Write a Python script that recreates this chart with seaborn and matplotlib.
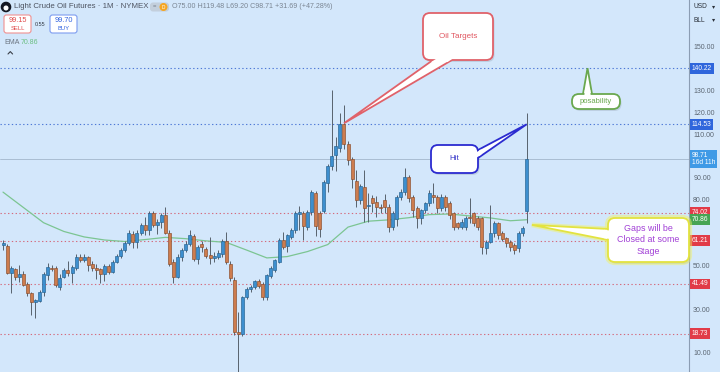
import numpy as np
import pandas as pd
import matplotlib
matplotlib.use("Agg")
import matplotlib.pyplot as plt
import seaborn as sns
from matplotlib.patches import FancyBboxPatch, Polygon, Circle

# ---------------- data ----------------
opens = [59.5, 59.0, 46.7, 48.2, 44.8, 46.0, 41.4, 37.3, 33.3, 33.5,
         37.9, 45.8, 48.8, 48.6, 40.3, 44.5, 47.8, 46.3, 48.6, 54.0,
         52.3, 53.7, 50.5, 49.0, 48.4, 46.0, 49.8, 46.8, 51.7, 54.2,
         57.0, 60.3, 64.5, 60.8, 65.0, 68.4, 66.2, 74.0, 68.4, 70.0,
         73.0, 64.7, 51.5, 44.8, 54.0, 57.0, 59.8, 63.4, 53.0, 59.6,
         57.5, 54.7, 53.5, 54.0, 55.2, 61.2, 50.6, 43.3, 19.6, 18.8,
         35.3, 39.0, 40.2, 42.8, 41.5, 35.3, 45.0, 47.8, 51.7, 61.6,
         58.8, 63.1, 66.1, 73.6, 74.0, 67.7, 74.5, 83.2, 74.0, 75.0,
         87.6, 95.4, 100.5, 103.5, 114.8, 105.5, 98.5, 88.7, 80.0, 86.0,
         77.0, 80.6, 78.9, 76.8, 80.0, 76.8, 67.7, 71.0, 81.4, 83.7,
         90.5, 81.4, 76.1, 71.5, 75.3, 78.4, 82.2, 81.4, 76.1, 81.1,
         78.4, 73.8, 69.2, 67.7, 67.7, 72.2, 73.8, 71.5, 71.5, 57.8,
         60.8, 64.9, 69.2, 64.6, 62.3, 60.8, 59.3, 57.8, 64.6, 75.0]
highs = [61.8, 59.6, 49.5, 49.0, 50.0, 47.5, 42.3, 38.0, 34.8, 38.5,
         46.8, 51.0, 50.0, 49.5, 46.0, 49.0, 52.0, 50.0, 55.0, 55.0,
         55.2, 54.5, 52.0, 50.5, 49.0, 50.5, 50.5, 52.3, 55.0, 57.8,
         61.0, 66.0, 65.5, 66.0, 69.5, 72.0, 75.0, 75.0, 71.0, 74.0,
         76.8, 66.0, 53.0, 55.0, 58.0, 61.0, 66.0, 64.5, 59.5, 61.0,
         58.5, 63.0, 56.0, 57.0, 62.0, 65.3, 52.0, 44.5, 28.8, 36.0,
         40.0, 41.0, 43.5, 43.8, 42.5, 46.0, 49.5, 53.0, 62.5, 65.4,
         64.5, 67.0, 75.0, 77.0, 75.0, 75.5, 84.5, 84.0, 75.0, 89.0,
         96.5, 130.2, 108.8, 119.5, 123.3, 107.0, 99.5, 93.6, 87.0, 93.6,
         83.0, 82.0, 81.5, 78.0, 82.5, 78.0, 75.0, 82.0, 85.0, 94.4,
         91.5, 82.0, 77.0, 76.0, 79.0, 84.5, 87.5, 82.0, 82.5, 82.0,
         79.5, 74.5, 70.0, 71.0, 72.5, 80.6, 74.5, 72.5, 72.0, 61.5,
         77.6, 70.5, 70.0, 65.5, 63.0, 61.5, 60.0, 65.5, 68.0, 119.48]
lows = [57.0, 46.0, 37.5, 43.3, 42.5, 40.5, 36.0, 27.5, 26.0, 33.0,
        36.0, 43.5, 47.5, 40.0, 38.8, 44.0, 45.0, 42.0, 48.0, 51.5,
        51.5, 47.5, 47.3, 43.8, 41.8, 43.0, 46.0, 46.5, 51.0, 53.5,
        56.0, 59.5, 58.0, 58.0, 64.0, 64.0, 64.0, 67.5, 64.5, 67.0,
        64.5, 49.5, 42.0, 44.0, 52.0, 56.0, 59.0, 52.0, 50.6, 56.0,
        53.5, 50.5, 51.3, 53.0, 54.0, 50.5, 43.0, 18.0, -37.6, 17.5,
        34.5, 38.0, 39.0, 39.5, 34.0, 34.0, 44.0, 47.0, 51.0, 57.5,
        56.0, 62.0, 65.0, 66.0, 61.6, 66.0, 73.0, 63.5, 63.0, 74.0,
        83.5, 93.6, 93.3, 102.0, 103.0, 96.0, 85.4, 76.8, 78.0, 70.0,
        70.0, 74.5, 72.0, 74.0, 74.0, 65.4, 66.0, 68.0, 80.0, 82.0,
        79.0, 72.0, 67.0, 69.0, 74.0, 77.0, 78.4, 74.0, 75.0, 75.0,
        71.0, 66.0, 66.5, 66.5, 66.0, 69.2, 68.0, 66.0, 55.0, 55.0,
        60.0, 63.0, 62.0, 61.0, 58.5, 56.5, 55.2, 56.0, 63.5, 69.2]
closes = [60.4, 46.7, 48.9, 44.8, 46.0, 41.0, 37.2, 33.3, 34.1, 37.9,
          45.9, 49.1, 48.5, 41.2, 44.4, 47.8, 46.3, 49.4, 53.7, 52.3,
          54.0, 50.2, 48.7, 47.9, 46.0, 49.8, 46.8, 51.7, 54.2, 57.0,
          60.3, 64.6, 60.8, 65.0, 68.4, 66.2, 74.1, 68.4, 70.0, 73.0,
          65.0, 50.5, 44.8, 54.0, 57.0, 59.8, 63.9, 53.0, 58.5, 58.4,
          54.3, 53.3, 54.2, 55.5, 61.2, 51.3, 44.2, 19.6, 18.8, 35.3,
          39.0, 40.2, 42.8, 40.5, 35.5, 45.6, 48.6, 52.4, 61.6, 58.5,
          63.9, 66.1, 73.8, 74.4, 68.0, 74.5, 83.7, 68.0, 66.5, 88.3,
          95.4, 100.0, 104.6, 114.5, 105.5, 98.3, 89.3, 80.0, 86.3, 76.2,
          77.6, 78.6, 76.8, 76.1, 76.8, 67.7, 74.0, 81.4, 83.7, 90.5,
          80.6, 75.3, 71.5, 75.3, 78.4, 83.0, 81.1, 76.1, 81.4, 76.8,
          73.0, 67.7, 67.7, 70.0, 71.5, 71.5, 69.2, 67.7, 58.5, 60.8,
          64.6, 69.2, 63.9, 61.9, 60.3, 58.5, 57.0, 64.6, 66.9, 98.71]

ema_idx = [0, 5, 10, 15, 20, 25, 30, 35, 40, 45, 50, 55, 60, 65, 70,
           75, 80, 85, 90, 95, 100, 105, 110, 115, 120, 125, 129]
ema_val = [83.5, 76.5, 69.5, 65.5, 63.0, 61.6, 60.9, 61.8, 62.8, 62.2,
           61.2, 60.5, 57.0, 53.4, 54.0, 56.3, 59.5, 67.5, 70.2, 70.8,
           71.8, 73.2, 73.5, 72.6, 71.7, 70.4, 70.86]

tick_vals = [10, 20, 30, 40, 50, 60, 70, 80, 90, 100, 110, 120, 130, 140, 150]
blue_levels = [140.22, 114.53]
red_levels = [74.02, 61.21, 41.49, 18.73]
last_price = 98.71
ema_last = 70.86
countdown = "16d 11h"
sell_price, buy_price, spread = 99.15, 99.70, 0.55
title = "Light Crude Oil Futures \u00b7 1M \u00b7 NYMEX"
ohlc_text = "O75.00 H119.48 L69.20 C98.71 +31.69 (+47.28%)"

# ---------------- style ----------------
sns.set_style("white")
plt.rcParams['font.family'] = ['Liberation Sans', 'DejaVu Sans']
BG = '#d3e7fb'
UP, UP_E = '#3d8fcf', '#24618f'
DN, DN_E = '#cd7c4e', '#8a4b2a'
WICK = '#58626d'
W, H = 720, 372

fig = plt.figure(figsize=(7.2, 3.72), dpi=100, facecolor=BG)
ax = fig.add_axes([0, 0, 689 / W, 1])
ax.set_facecolor(BG)

df = pd.DataFrame(dict(i=np.arange(len(closes)), o=opens, h=highs, l=lows, c=closes))
up = (df.c >= df.o).values

# EMA line
sns.lineplot(x=ema_idx, y=ema_val, ax=ax, color='#7cc592', lw=0.9, zorder=2)

# horizontal levels
for lv in blue_levels:
    ax.axhline(lv, color='#4d78d6', lw=0.8, ls=(0, (1.2, 2.2)), zorder=1)
for lv in red_levels:
    ax.axhline(lv, color='#d46a7c', lw=0.8, ls=(0, (1.2, 2.2)), zorder=1)
ax.axhline(last_price, color='#a3b6cc', lw=0.6, zorder=1)

# candles
ax.vlines(df.i, df.l, df.h, color=WICK, lw=0.7, zorder=3)
body_bottom = np.minimum(df.o, df.c)
body_h = np.maximum(np.abs(df.c - df.o), 0.4)
ax.bar(df.i, body_h, bottom=body_bottom, width=0.74,
       color=np.where(up, UP, DN), edgecolor=np.where(up, UP_E, DN_E),
       linewidth=0.45, zorder=4)

ax.set_xlim(-0.74, 169)
ax.set_ylim(1.2, 171.4)
ax.set_xticks([])
ax.yaxis.tick_right()
# tick labels hidden where a price box covers them (as on the reference)
box_vals = blue_levels + red_levels + [last_price, ema_last]
ax.set_yticks(tick_vals)
ax.set_yticklabels([f"{v:.2f}" if min(abs(v - b) for b in box_vals) > 3.2 else ""
                    for v in tick_vals])
ax.tick_params(axis='y', length=0, pad=3, labelsize=5, labelcolor='#5b6672')
for s in ['top', 'left', 'bottom']:
    ax.spines[s].set_visible(False)
ax.spines['right'].set_color('#8b9db3')
ax.spines['right'].set_linewidth(0.8)
ax.grid(False)

# price label boxes on the axis
ytr = ax.get_yaxis_transform()
def price_box(val, col, txt=None):
    ax.text(1.004, val, txt if txt else f"{val:.2f}", transform=ytr, ha='left',
            va='center', fontsize=4.8, color='white', clip_on=False, zorder=10,
            linespacing=1.0,
            bbox=dict(boxstyle='square,pad=0.28', fc=col, ec='none'))

for lv in blue_levels:
    price_box(lv, '#2f66dc')
price_box(last_price, '#3f9ae6', f"{last_price:.2f}\n{countdown}")
for lv in red_levels:
    price_box(lv, '#e13b48')
price_box(ema_last, '#46a453')

# ---------------- overlay in pixel coordinates ----------------
ov = fig.add_axes([0, 0, 1, 1])
ov.set_xlim(0, W)
ov.set_ylim(H, 0)
ov.axis('off')
ov.patch.set_alpha(0)
ov.set_zorder(5)

def to_px(x, y):
    dx, dy = ax.transData.transform((x, y))
    return np.array([dx, H - dy])

def callout(box, base, tip, ec, text, tc, fs=5.8, lw=1.3, glow=None, ls=1.25):
    x0, y0, x1, y1 = box
    b0, b1 = np.array(base[0], float), np.array(base[1], float)
    tip = np.array(tip, float)
    ov.add_patch(FancyBboxPatch((x0 + 1.5, y0 + 2), x1 - x0, y1 - y0,
                                boxstyle='round,pad=0,rounding_size=7',
                                fc='#7f8a99', ec='none', alpha=0.25, zorder=20))
    if glow:
        ov.add_patch(FancyBboxPatch((x0, y0), x1 - x0, y1 - y0,
                                    boxstyle='round,pad=0,rounding_size=7',
                                    fc='none', ec=glow, lw=4.5, alpha=0.45, zorder=20))
        ov.add_patch(Polygon([b0, tip, b1], closed=True, fc='none', ec=glow,
                             lw=3.5, alpha=0.45, zorder=20))
    ov.add_patch(Polygon([b0, tip, b1], closed=True, fc='white', ec=ec, lw=lw,
                         joinstyle='miter', zorder=21))
    ov.add_patch(FancyBboxPatch((x0, y0), x1 - x0, y1 - y0,
                                boxstyle='round,pad=0,rounding_size=7',
                                fc='white', ec=ec, lw=lw, zorder=22))
    mid = (b0 + b1) / 2
    d = (tip - mid) / np.linalg.norm(tip - mid)
    t0 = b0 + (tip - b0) / np.linalg.norm(tip - b0) * 4
    t1 = b1 + (tip - b1) / np.linalg.norm(tip - b1) * 4
    s = (b1 - b0) / np.linalg.norm(b1 - b0)
    cov = [b0 + s * 1.3 - d * 3, b1 - s * 1.3 - d * 3, t1 - s * 1.0, t0 + s * 1.0]
    ov.add_patch(Polygon(cov, closed=True, fc='white', ec='none', zorder=23))
    ov.text((x0 + x1) / 2, (y0 + y1) / 2, text, ha='center', va='center',
            fontsize=fs, color=tc, zorder=24, linespacing=ls)

callout((423, 13, 493, 60), [(433, 60), (452, 60)], to_px(84, 115.0),
        '#e0626a', 'Oil Targets', '#e0555f')
callout((431, 145, 478, 173), [(478, 150), (478, 158)], to_px(129, blue_levels[1]),
        '#2b2bd0', 'Hit', '#3535c8')
callout((572, 94, 620, 109), [(583, 94), (592, 94)], to_px(144, blue_levels[0]),
        '#6aa84f', 'posability', '#6aa84f', fs=5.5)
callout((608, 218, 689, 262), [(608, 229), (608, 240)], to_px(130.3, 68.5),
        '#e3e340', 'Gaps will be\nClosed at some\nStage', '#a13fd6', fs=6.4,
        glow='#f4f45a', ls=1.35)

# header
ov.add_patch(Circle((6, 7), 4.6, color='#131722', zorder=20))
ov.add_patch(Circle((6, 8), 1.8, color='white', zorder=21))
ov.text(13.5, 7, title, ha='left', va='center', fontsize=5.7, color='#4d5360', zorder=22)
ov.add_patch(FancyBboxPatch((150, 2.5), 19, 9, boxstyle='round,pad=0,rounding_size=3',
                            fc='#c3cfdc', ec='none', zorder=20))
ov.text(154, 7, '=', ha='center', va='center', fontsize=4.2, color='#6b7480', zorder=22)
ov.add_patch(Circle((163.5, 7), 3.3, color='#f5a623', zorder=21))
ov.text(163.5, 7.2, 'D', ha='center', va='center', fontsize=3.4, color='white', zorder=22)
ov.text(172, 7, ohlc_text, ha='left', va='center', fontsize=5.1, color='#7a8592', zorder=22)

# sell / buy
ov.add_patch(FancyBboxPatch((4, 15), 27, 18, boxstyle='round,pad=0,rounding_size=2.5',
                            fc='white', ec='#f09090', lw=0.8, zorder=20))
ov.text(17.5, 20.5, f"{sell_price:.2f}", ha='center', va='center', fontsize=5.3,
        color='#e04a4a', zorder=22)
ov.text(17.5, 28, 'SELL', ha='center', va='center', fontsize=4.2, color='#e04a4a', zorder=22)
ov.text(40.5, 25, f"{spread:.2f}", ha='center', va='center', fontsize=4.0, color='#333a44', zorder=22)
ov.add_patch(FancyBboxPatch((50, 15), 27, 18, boxstyle='round,pad=0,rounding_size=2.5',
                            fc='white', ec='#7d9cf0', lw=0.8, zorder=20))
ov.text(63.5, 20.5, f"{buy_price:.2f}", ha='center', va='center', fontsize=5.3,
        color='#2f62e0', zorder=22)
ov.text(63.5, 28, 'BUY', ha='center', va='center', fontsize=4.2, color='#2f62e0', zorder=22)

ov.text(4, 42, 'EMA', ha='left', va='center', fontsize=5.0, color='#6b7480', zorder=22)
ov.text(21, 42, f"{ema_last:.2f}", ha='left', va='center', fontsize=5.0, color='#6cbf82', zorder=22)
ov.plot([8, 10.3, 12.6], [54, 51.6, 54], color='#3a3f48', lw=0.8, zorder=22)

# currency / unit selectors
ov.text(693, 7, 'USD', ha='left', va='center', fontsize=4.8, color='#2b313a', zorder=22)
ov.text(714, 7, '\u25be', ha='center', va='center', fontsize=4.5, color='#2b313a',
        family=['DejaVu Sans'], zorder=22)
ov.text(693, 20, 'BLL', ha='left', va='center', fontsize=4.8, color='#2b313a', zorder=22)
ov.text(714, 20, '\u25be', ha='center', va='center', fontsize=4.5, color='#2b313a',
        family=['DejaVu Sans'], zorder=22)

fig.savefig('out.png', dpi=100, facecolor=BG)
